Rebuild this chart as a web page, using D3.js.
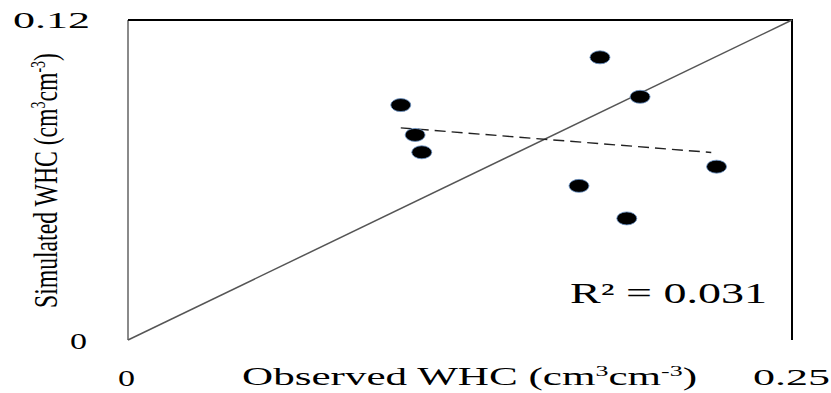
<!DOCTYPE html>
<html>
<head>
<meta charset="utf-8">
<script src="https://cdn.jsdelivr.net/npm/d3@7"></script>
<style>
  body { margin: 0; background: #fff; }
  text { font-family: "Liberation Serif", "Times New Roman", serif; fill: #000; }
</style>
</head>
<body>
<script>
// observed vs simulated water holding capacity
let observed  = [0.1027, 0.1777, 0.1928, 0.1081, 0.1106, 0.1698, 0.1878, 0.2216],
    simulated = [0.0881, 0.1060, 0.0912, 0.0769, 0.0704, 0.0578, 0.0456, 0.0650];
let xDomain = [0, 0.25],
    yDomain = [0, 0.12];
let xTickLabels = ["0", "0.25"],
    yTickLabels = ["0", "0.12"];
let r2Label = "R² = 0.031";

let w = 831, h = 393;

let x = d3.scaleLinear().domain(xDomain).range([128, 792]);
let y = d3.scaleLinear().domain(yDomain).range([340, 20]);

let svg = d3.select("body").append("svg").attr("width", w).attr("height", h);

// frame: grey left edge, black top and right
svg.append("line")
  .attr("x1", x(0)).attr("x2", x(0)).attr("y1", y(0)).attr("y2", y(yDomain[1]))
  .attr("stroke", "#8a8a8a").attr("stroke-width", 2);
svg.append("path")
  .attr("d", `M${x(0)},${y(yDomain[1])}H${x(xDomain[1])}V${y(0)}`)
  .attr("fill", "none").attr("stroke", "#000").attr("stroke-width", 2);

// 1:1 line
svg.append("line")
  .attr("x1", x(0)).attr("y1", y(0))
  .attr("x2", x(xDomain[1])).attr("y2", y(yDomain[1]))
  .attr("stroke", "#555").attr("stroke-width", 1.5);

// least squares trend
let mx = d3.mean(observed), my = d3.mean(simulated);
let sxy = d3.sum(observed, (v, i) => (v - mx) * (simulated[i] - my));
let sxx = d3.sum(observed, v => (v - mx) * (v - mx));
let slope = sxy / sxx, icpt = my - slope * mx;
let xe = d3.extent(observed);

svg.append("line")
  .attr("x1", x(xe[0])).attr("y1", y(icpt + slope * xe[0]))
  .attr("x2", x(xe[1] - 0.002)).attr("y2", y(icpt + slope * (xe[1] - 0.002)))
  .attr("stroke", "#222").attr("stroke-width", 1.4)
  .attr("stroke-dasharray", "11,6");

// points
svg.selectAll("ellipse").data(observed).enter().append("ellipse")
  .attr("cx", d => x(d))
  .attr("cy", (d, i) => y(simulated[i]))
  .attr("rx", 10).attr("ry", 6.5)
  .attr("fill", "#000")
  .attr("stroke", "#6a93c8").attr("stroke-width", 0.8);

// tick labels (the picture is stretched sideways, so set text lengths)
svg.append("text").attr("x", 70).attr("y", 349).attr("font-size", 24)
  .attr("textLength", 17).attr("lengthAdjust", "spacingAndGlyphs").text(yTickLabels[0]);
svg.append("text").attr("x", 13).attr("y", 28).attr("font-size", 24)
  .attr("textLength", 77).attr("lengthAdjust", "spacingAndGlyphs").text(yTickLabels[1]);
svg.append("text").attr("x", 118).attr("y", 386).attr("font-size", 24)
  .attr("textLength", 17).attr("lengthAdjust", "spacingAndGlyphs").text(xTickLabels[0]);
svg.append("text").attr("x", 753).attr("y", 385).attr("font-size", 24)
  .attr("textLength", 77).attr("lengthAdjust", "spacingAndGlyphs").text(xTickLabels[1]);

// x title
let xt = svg.append("text").attr("x", 242).attr("y", 385).attr("font-size", 25)
  .attr("textLength", 455).attr("lengthAdjust", "spacingAndGlyphs");
xt.append("tspan").text("Observed WHC (cm");
xt.append("tspan").attr("font-size", 15).attr("dy", -9).text("3");
xt.append("tspan").attr("dy", 9).text("cm");
xt.append("tspan").attr("font-size", 15).attr("dy", -9).text("-3");
xt.append("tspan").attr("dy", 9).text(")");

// y title
let yt = svg.append("text")
  .attr("transform", "translate(57,308) scale(1.55,1) rotate(-90)")
  .attr("font-size", 22)
  .attr("textLength", 255).attr("lengthAdjust", "spacingAndGlyphs");
yt.append("tspan").text("Simulated WHC (cm");
yt.append("tspan").attr("font-size", 13).attr("dy", -8).text("3");
yt.append("tspan").attr("dy", 8).text("cm");
yt.append("tspan").attr("font-size", 13).attr("dy", -8).text("-3");
yt.append("tspan").attr("dy", 8).text(")");

// R squared
svg.append("text").attr("x", 570).attr("y", 303).attr("font-size", 29)
  .attr("textLength", 197).attr("lengthAdjust", "spacingAndGlyphs").text(r2Label);
</script>
</body>
</html>
